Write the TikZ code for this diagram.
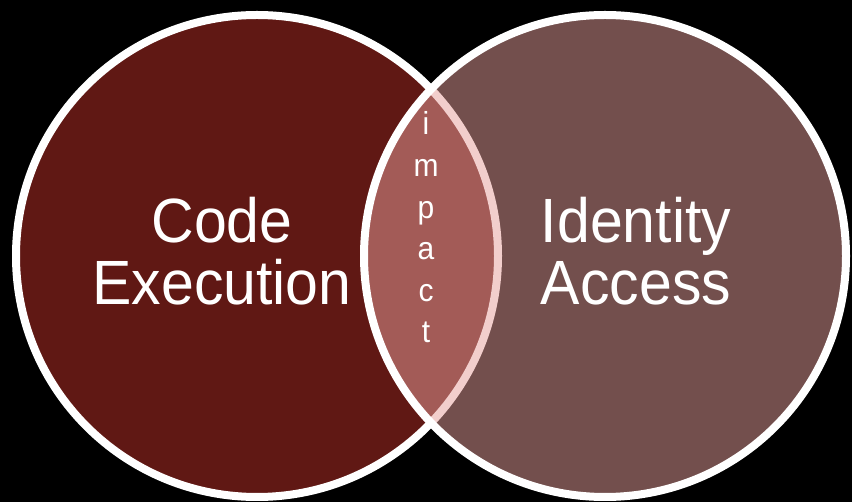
\documentclass[tikz,border=0pt]{standalone}
\usepackage{fontspec}
\setmainfont{Liberation Sans}
\definecolor{execfill}{RGB}{96,24,20}
\definecolor{accessfill}{RGB}{230,158,154}
\tikzset{
  ring/.style={line width=8pt, draw=white},
  bigtext/.style={text=white, anchor=base, inner sep=0pt,
    font=\fontsize{59}{63}\selectfont},
  lenstext/.style={text=white, anchor=base, inner sep=0pt,
    font=\fontsize{30}{36}\selectfont},
}
\newcommand{\tallish}[1]{\scalebox{1}[1.06]{#1}}
\begin{document}
\begin{tikzpicture}[x=1pt, y=-1pt]
  % black page
  \fill[black] (0,0) rectangle (852,502);
  \useasboundingbox (0,0) rectangle (852,502);
  \begin{scope}
    \clip (0,0) rectangle (852,502);
    % left set, opaque
    \path[ring, fill=execfill] (257,256) circle[radius=241];
    % right set, half transparent so the overlap blends
    \fill[accessfill, fill opacity=0.5] (605,256) circle[radius=241];
    \path[ring] (605,256) circle[radius=241];
  \end{scope}
  % labels
  \node[bigtext] (code) at (222,243) {\tallish{Code}};
  \node[bigtext] (exec) at (222,305) {\tallish{Execution}};
  \node[bigtext] (ident) at (636,243) {\tallish{Identity}};
  \node[bigtext] (acc) at (636,305) {\tallish{Access}};
  % vertical word in the overlap
  \foreach \ch/\yy [count=\k] in {i/135, m/177, p/219, a/260, c/302, t/343}
    \node[lenstext] (imp\k) at (426,\yy) {\tallish{\ch}};
\end{tikzpicture}
\end{document}
